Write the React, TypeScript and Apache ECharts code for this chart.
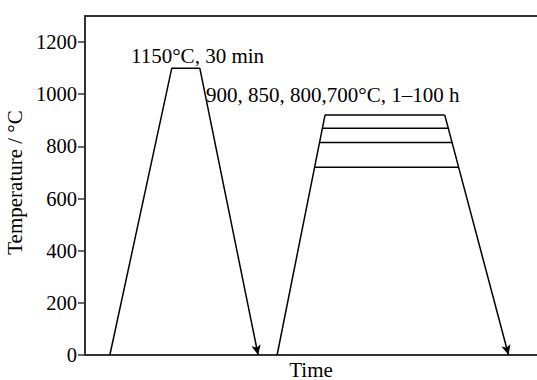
import React, { useEffect, useRef } from "react";
import * as echarts from "echarts";

// Temperature axis ticks
const yTicks = [0, 200, 400, 600, 800, 1000, 1200];

// Solution treatment cycle (time in arbitrary units, temperature in °C)
const solutionHeat = [
  [5.5, 0],
  [19.2, 1100],
  [25.4, 1100],
];
const solutionCool = [
  [25.4, 1100],
  [38.3, 0],
];

// Ageing cycle
const ageingHeat = [
  [42.5, 0],
  [53.1, 920],
  [79.6, 920],
];
const ageingCool = [
  [79.6, 920],
  [93.7, 0],
];
const ageing870 = [
  [52.5, 870],
  [80.4, 870],
];
const ageing815 = [
  [51.9, 815],
  [81.2, 815],
];
const ageing720 = [
  [50.8, 720],
  [82.7, 720],
];

const label1 = "1150°C, 30 min";
const label2 = "900, 850, 800,700°C, 1–100 h";

const FONT = "'Liberation Serif', 'Times New Roman', serif";
const LINE = { color: "#000", width: 1.5 };

function lineSeries(data: number[][]) {
  return {
    type: "line",
    data,
    xAxisIndex: 0,
    yAxisIndex: 0,
    symbol: "none",
    lineStyle: LINE,
    silent: true,
  };
}

function arrowSeries(seg: number[][]) {
  return {
    type: "line",
    data: [],
    xAxisIndex: 0,
    yAxisIndex: 0,
    symbol: "none",
    markLine: {
      silent: true,
      symbol: ["none", "arrow"],
      symbolSize: [7, 10],
      label: { show: false },
      lineStyle: { color: "#000", width: 1.5, type: "solid" },
      emphasis: { disabled: true },
      data: [[{ coord: seg[0] }, { coord: seg[1] }]],
    },
  };
}

export default function App() {
  const ref = useRef<HTMLDivElement>(null);
  useEffect(() => {
    if (!ref.current) return;
    const chart = echarts.init(ref.current, null, { renderer: "svg" });
    chart.setOption({
      animation: false,
      backgroundColor: "#fff",
      grid: {
        left: 85,
        right: 0,
        top: 16,
        bottom: 25,
        containLabel: false,
        outerBoundsMode: "none",
      },
      xAxis: [
        {
          type: "value",
          min: 0,
          max: 100,
          position: "bottom",
          name: "Time",
          nameLocation: "middle",
          nameGap: 4,
          nameTextStyle: { fontFamily: FONT, fontSize: 21, color: "#000" },
          axisLine: { show: true, lineStyle: { color: "#333", width: 2 } },
          axisTick: { show: false },
          axisLabel: { show: false },
          splitLine: { show: false },
        },
        {
          type: "value",
          min: 0,
          max: 100,
          position: "top",
          axisLine: { show: true, lineStyle: { color: "#333", width: 2 } },
          axisTick: { show: false },
          axisLabel: { show: false },
          splitLine: { show: false },
        },
      ],
      yAxis: {
        type: "value",
        min: 0,
        max: 1300,
        interval: 200,
        name: "Temperature / °C",
        nameLocation: "middle",
        nameGap: 53,
        nameTextStyle: {
          fontFamily: FONT,
          fontSize: 21,
          color: "#000",
          padding: [0, 0, 0, 6],
        },
        axisLine: { show: true, lineStyle: { color: "#333", width: 2 } },
        axisTick: {
          show: true,
          length: 7,
          lineStyle: { color: "#333", width: 1.5 },
          customValues: yTicks,
        },
        axisLabel: {
          fontFamily: FONT,
          fontSize: 20.5,
          color: "#000",
          margin: 8,
          customValues: yTicks,
          formatter: (v: number) => String(v),
        },
        splitLine: { show: false },
      },
      graphic: [
        {
          type: "text",
          left: 131,
          top: 45,
          silent: true,
          style: { text: label1, font: `21px ${FONT}`, fill: "#000" },
        },
        {
          type: "text",
          left: 206,
          top: 84,
          silent: true,
          style: { text: label2, font: `21px ${FONT}`, fill: "#000" },
        },
      ],
      series: [
        lineSeries(solutionHeat),
        arrowSeries(solutionCool),
        lineSeries(ageingHeat),
        arrowSeries(ageingCool),
        lineSeries(ageing870),
        lineSeries(ageing815),
        lineSeries(ageing720),
      ],
    });
    return () => chart.dispose();
  }, []);
  return (
    <div
      ref={ref}
      style={{ position: "fixed", left: 0, top: 0, width: 537, height: 380 }}
    />
  );
}
